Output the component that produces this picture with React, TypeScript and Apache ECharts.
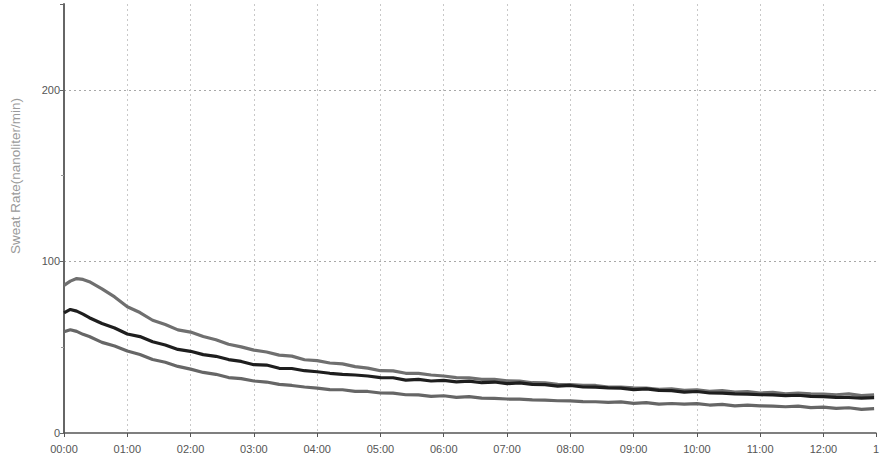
import React, { useEffect, useRef } from "react";
import * as echarts from "echarts";

// time in hours from 00:00
const hours = [
  0, 0.1, 0.2, 0.3, 0.4, 0.6, 0.8, 1.0, 1.2, 1.4, 1.6, 1.8, 2.0, 2.2, 2.4, 2.6, 2.8, 3.0,
  3.2, 3.4, 3.6, 3.8, 4.0, 4.2, 4.4, 4.6, 4.8, 5.0, 5.2, 5.4, 5.6, 5.8, 6.0, 6.2, 6.4, 6.6,
  6.8, 7.0, 7.2, 7.4, 7.6, 7.8, 8.0, 8.2, 8.4, 8.6, 8.8, 9.0, 9.2, 9.4, 9.6, 9.8, 10.0, 10.2,
  10.4, 10.6, 10.8, 11.0, 11.2, 11.4, 11.6, 11.8, 12.0, 12.2, 12.4, 12.6, 12.8,
];

const upperSeries = [
  86, 88.5, 90, 89.5, 88.2, 84, 79.3, 73.6, 70.2, 65.7, 63.2, 60.1, 58.8, 56.2, 54.3, 51.7,
  50.2, 48.3, 47.2, 45.4, 44.8, 42.7, 42.2, 40.8, 40.3, 38.7, 37.8, 36.3, 36.2, 34.8, 34.7,
  33.8, 33.2, 32.3, 32.2, 31.3, 31.2, 30.4, 30.2, 29.3, 29.2, 28.3, 28.2, 27.8, 27.7, 26.8,
  26.7, 26.3, 26.2, 25.4, 25.7, 24.8, 25.2, 24.3, 24.7, 23.8, 24.2, 23.3, 23.7, 22.8, 23.2,
  22.8, 22.7, 22.3, 22.8, 21.8, 22.2,
];

const middleSeries = [
  70, 72, 71, 69.3, 67.2, 63.8, 61.2, 57.7, 56.2, 53.2, 51.3, 48.7, 47.6, 45.7, 44.7, 42.8,
  41.7, 39.8, 39.6, 37.7, 37.6, 36.3, 35.7, 34.8, 34.2, 33.8, 33.2, 32.3, 32.2, 30.8, 31.2,
  30.3, 30.7, 29.8, 30.2, 29.3, 29.7, 28.8, 29.2, 28.3, 28.2, 27.3, 27.7, 26.8, 26.7, 26.3,
  26.2, 25.3, 25.7, 24.8, 24.7, 23.8, 24.2, 23.3, 23.2, 22.8, 22.7, 22.3, 22.2, 21.8, 22.0,
  21.3, 21.2, 20.8, 20.7, 20.3, 20.6,
];

const lowerSeries = [
  59, 60.2, 59.2, 57.5, 56.2, 52.8, 50.7, 47.8, 45.7, 42.8, 41.2, 38.8, 37.2, 35.3, 34.2,
  32.3, 31.7, 30.3, 29.7, 28.3, 27.7, 26.8, 26.2, 25.3, 25.2, 24.3, 24.2, 23.3, 23.2, 22.3,
  22.2, 21.3, 21.7, 20.8, 21.2, 20.3, 20.2, 19.8, 19.7, 19.3, 19.2, 18.8, 18.7, 18.3, 18.2,
  17.8, 18.1, 17.3, 17.7, 16.8, 17.2, 16.8, 17.1, 16.3, 16.7, 15.8, 16.2, 15.8, 15.7, 15.3,
  15.7, 14.8, 15.1, 14.3, 14.7, 13.8, 14.2,
];

const xTickInterval = 1;
const xMax = 12.83;
const yTickInterval = 100;
const yMax = 250;
const yName = "Sweat Rate(nanoliter/min)";

const pad = (n: number) => (n < 10 ? "0" + n : "" + n);

export default function App() {
  const ref = useRef<HTMLDivElement>(null);
  useEffect(() => {
    document.body.style.margin = "0";
    const chart = echarts.init(ref.current!, undefined, { renderer: "svg" });
    const zip = (vals: number[]) => hours.map((h, i) => [h, vals[i]]);
    const font = "Liberation Sans, Arial, sans-serif";
    chart.setOption({
      animation: false,
      backgroundColor: "#ffffff",
      grid: { left: 64, right: 9, top: 4, bottom: 35 },
      graphic: [
        {
          type: "text",
          x: 15,
          y: 176,
          rotation: Math.PI / 2,
          style: {
            text: yName,
            fill: "#9a9a9a",
            font: "13.5px " + font,
            align: "center",
            verticalAlign: "middle",
          },
        },
      ],
      xAxis: {
        type: "value",
        min: 0,
        max: xMax,
        interval: xTickInterval,
        axisLine: { show: true, onZero: false, lineStyle: { color: "#555", width: 1.5 } },
        axisTick: { show: true, length: 4, lineStyle: { color: "#555" } },
        axisLabel: {
          color: "#555",
          fontSize: 11,
          fontFamily: font,
          margin: 10,
          showMaxLabel: true,
          formatter: (v: number) => (v > 12.5 ? "1" : pad(Math.round(v)) + ":00"),
        },
        splitLine: {
          show: true,
          showMinLine: false,
          showMaxLine: false,
          lineStyle: { color: "#c8c8c8", type: [2, 3], width: 1 },
        },
      },
      yAxis: {
        type: "value",
        min: 0,
        max: yMax,
        interval: yTickInterval,
        axisLine: { show: true, lineStyle: { color: "#666", width: 2 } },
        axisTick: { show: true, length: 4, lineStyle: { color: "#666" } },
        minorTick: { show: true, splitNumber: 2, length: 3, lineStyle: { color: "#999" } },
        axisLabel: {
          color: "#555",
          fontSize: 11,
          fontFamily: font,
          margin: 4,
          showMaxLabel: false,
        },
        splitLine: {
          show: true,
          showMinLine: false,
          showMaxLine: false,
          lineStyle: { color: "#a8a8a8", type: [2, 3], width: 1 },
        },
      },
      series: [
        {
          type: "line",
          data: zip(upperSeries),
          showSymbol: false,
          lineStyle: { color: "#6f6f6f", width: 3.2 },
          z: 3,
        },
        {
          type: "line",
          data: zip(lowerSeries),
          showSymbol: false,
          lineStyle: { color: "#666666", width: 3.2 },
          z: 3,
        },
        {
          type: "line",
          data: zip(middleSeries),
          showSymbol: false,
          lineStyle: { color: "#1e1e1e", width: 3.2 },
          z: 4,
        },
      ],
    });
    return () => chart.dispose();
  }, []);
  return <div ref={ref} style={{ width: 885, height: 468 }} />;
}
